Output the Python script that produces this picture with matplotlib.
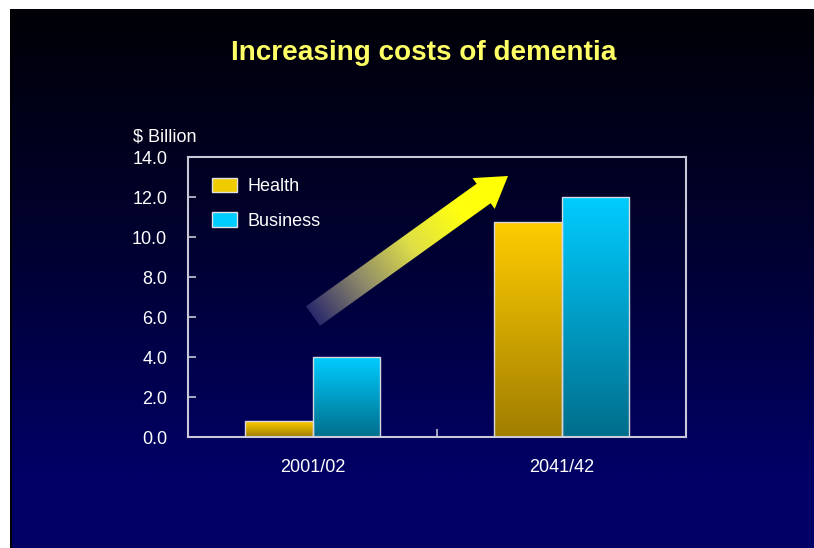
import matplotlib
matplotlib.use("Agg")
import matplotlib.pyplot as plt
import numpy as np
from matplotlib.colors import LinearSegmentedColormap
from matplotlib.patches import Patch, Polygon

# data ($ billion)
categories = ["2001/02", "2041/42"]
series = ["Health", "Business"]
health = [0.8, 10.75]
business = [4.0, 12.0]
yticks = [0, 2, 4, 6, 8, 10, 12, 14]

W, H = 814, 548
plt.rcParams.update({"font.family": ["Liberation Sans", "DejaVu Sans"],
                     "font.size": 13})

fig = plt.figure(figsize=(W / 100, H / 100), dpi=100, facecolor="white")


def fx(px):
    return px / W


def fy(py):
    return 1 - py / H


# slide background: black at the top fading to navy
bg = fig.add_axes([fx(10), 0, fx(W - 10), fy(9)], zorder=0)
grad = np.linspace(0, 1, 300)[:, None]
grad = np.clip(grad * 1.15, 0, 1)
bg_cmap = LinearSegmentedColormap.from_list("bg", ["#000006", "#000030", "#000066"])
bg.imshow(grad, cmap=bg_cmap, aspect="auto", extent=(0, 1, 1, 0))
bg.set_xlim(0, 1); bg.set_ylim(1, 0)
bg.axis("off")
bg.axvspan(0, 0.0025, color="black", lw=0)

# main chart
ax = fig.add_axes([fx(188), fy(437), fx(498), 280 / H], zorder=2)
ax.set_facecolor("none")
x = np.arange(len(categories))
bw = 0.273

STYLE = {
    "Health": dict(top="#FFCC00", bottom="#A07E00", swatch="#EECC00"),
    "Business": dict(top="#00CCFF", bottom="#006E8C", swatch="#00CCFF"),
}

for off, name, vals in [(-bw / 2, "Health", health), (bw / 2, "Business", business)]:
    st = STYLE[name]
    bars = ax.bar(x + off, vals, width=bw, facecolor="none",
                  edgecolor="#D8D8E0", lw=1.0, zorder=3)
    cm = LinearSegmentedColormap.from_list(name, [st["bottom"], st["top"]])
    for b in bars:
        x0, h = b.get_x(), b.get_height()
        im = ax.imshow(np.linspace(0, 1, 128)[:, None], cmap=cm, aspect="auto",
                       origin="lower", extent=(x0, x0 + bw, 0, h), zorder=2)
        im.set_clip_path(b)

ax.set_xlim(-0.5, 1.5)
ax.set_ylim(0, 14)
ax.set_yticks(yticks)
ax.set_yticklabels([f"{v:.1f}" for v in yticks])
ax.set_xticks([0.5])
ax.set_xticklabels([""])
ax.set_xticks(x, minor=True)
ax.set_xticklabels(categories, minor=True)
ax.tick_params(axis="y", direction="in", length=6, width=1.2, color="#C8C8D8",
               pad=15, labelcolor="white", labelsize=13)
ax.tick_params(axis="x", which="major", direction="in", length=6, width=1.2,
               color="#C8C8D8")
ax.tick_params(axis="x", which="minor", length=0, pad=16, labelcolor="white",
               labelsize=13)
for sp in ax.spines.values():
    sp.set_color("#C8C8D8")
    sp.set_linewidth(1.5)

handles = [Patch(facecolor=STYLE[s]["swatch"], edgecolor="#E0E0E0", lw=1) for s in series]
leg = fig.legend(handles, series, loc="upper left",
                 bbox_to_anchor=(fx(212), fy(178)), frameon=False,
                 borderpad=0, borderaxespad=0, handlelength=1.39,
                 handleheight=0.83, handletextpad=0.55, labelspacing=0.95,
                 fontsize=13)
for t in leg.get_texts():
    t.set_color("white")

fig.text(fx(133), fy(137), "$ Billion", color="white", fontsize=13,
         ha="left", va="center")
fig.text(fx(424), fy(53), "Increasing costs of dementia", color="#FFFF66",
         fontsize=20.1, fontweight="bold", ha="center", va="center")

# decorative rising arrow with a dark-to-yellow gradient
ov = fig.add_axes([0, 0, 1, 1], zorder=3)
ov.set_xlim(0, W); ov.set_ylim(H, 0)
ov.axis("off")
tail = np.array([313.0, 316.0])
tip = np.array([508.0, 176.0])
L = np.linalg.norm(tip - tail)
u = (tip - tail) / L
n = np.array([-u[1], u[0]])
hw, hh, hl = 12.0, 19.0, 30.0
base = tip - u * hl
pts = [tail + n * hw, base + n * hw, base + n * hh, tip,
       base - n * hh, base - n * hw, tail - n * hw]
poly = Polygon(pts, closed=True, facecolor="none", edgecolor="none")
ov.add_patch(poly)
xs = np.linspace(290, 520, 240)
ys = np.linspace(160, 340, 200)
XX, YY = np.meshgrid(xs, ys)
tt = ((XX - tail[0]) * u[0] + (YY - tail[1]) * u[1]) / L
arrow_cmap = LinearSegmentedColormap.from_list(
    "arr", ["#2c2a6c", "#8e8a6a", "#dede48", "#ffff10", "#ffff00"])
im = ov.imshow(np.clip(tt, 0, 1), cmap=arrow_cmap, vmin=0, vmax=1,
               origin="lower", extent=(xs[0], xs[-1], ys[0], ys[-1]),
               aspect="auto", interpolation="bilinear")
im.set_clip_path(poly)
ov.set_xlim(0, W); ov.set_ylim(H, 0)

fig.savefig("out.png", dpi=100, facecolor="white")
